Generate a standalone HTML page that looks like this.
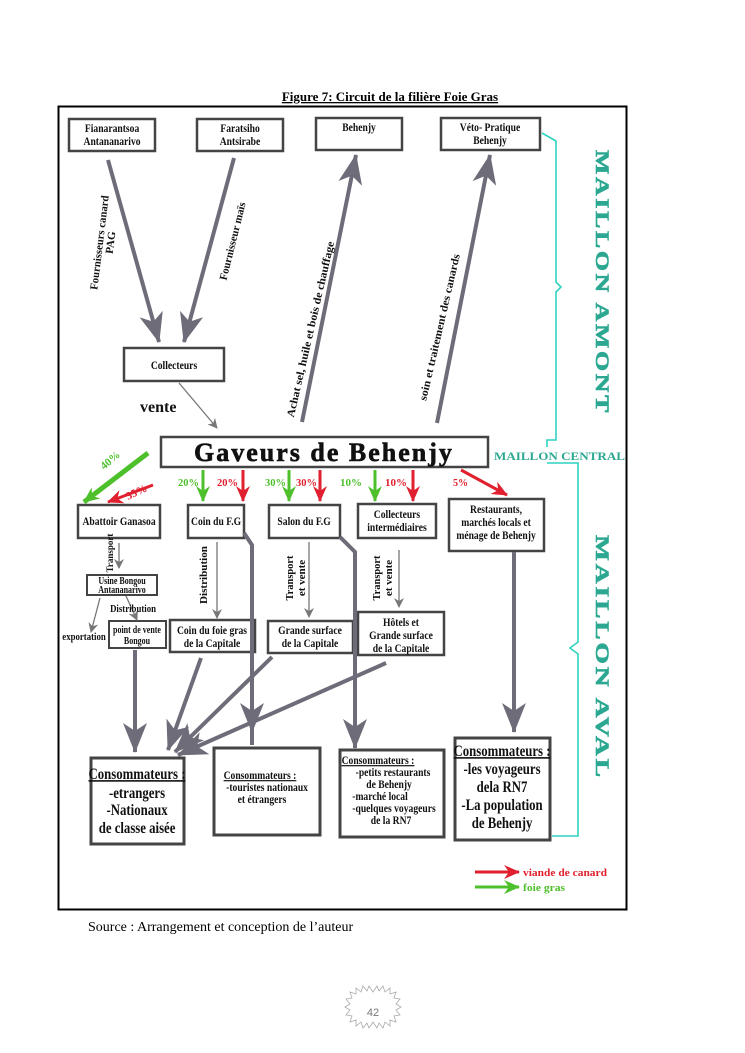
<!DOCTYPE html>
<html><head><meta charset="utf-8"><style>
html,body{margin:0;padding:0;background:#fff;}
svg{display:block;}
text{font-family:"Liberation Serif",serif;font-weight:bold;}
.c text,text.c{transform-box:fill-box;transform-origin:center;transform:scaleX(0.8);}
</style></head><body>
<svg width="745" height="1053" viewBox="0 0 745 1053" xmlns="http://www.w3.org/2000/svg">
<defs>
<marker id="g" markerWidth="10" markerHeight="10" refX="9" refY="5" orient="auto" markerUnits="userSpaceOnUse"><path d="M0,0 L10,5 L0,10 L3,5 Z" fill="#777"/></marker>
<marker id="G" markerWidth="30" markerHeight="24" refX="29" refY="12" orient="auto" markerUnits="userSpaceOnUse"><path d="M0,0 L30,12 L0,24 L8,12 Z" fill="#6e6c78"/></marker>
<marker id="r" markerWidth="16" markerHeight="14" refX="15" refY="7" orient="auto" markerUnits="userSpaceOnUse"><path d="M0,0 L16,7 L0,14 L5,7 Z" fill="#e0202e"/></marker>
<marker id="gr" markerWidth="16" markerHeight="14" refX="15" refY="7" orient="auto" markerUnits="userSpaceOnUse"><path d="M0,0 L16,7 L0,14 L5,7 Z" fill="#4ec02c"/></marker>
</defs>
<text x="390" y="101" font-size="13" text-anchor="middle" text-decoration="underline">Figure 7: Circuit de la filière Foie Gras</text>
<rect x="58.5" y="106.5" width="568" height="803" fill="none" stroke="#000" stroke-width="2"/>

<g fill="#fff" stroke="#444" stroke-width="2.5">
<rect x="69" y="119" width="86" height="32"/><rect x="197" y="119" width="86" height="32"/>
<rect x="316" y="118" width="86" height="32"/><rect x="441" y="118" width="99" height="32"/>
<rect x="124" y="348" width="100" height="33"/>
<rect x="161" y="437" width="327" height="30"/>
<rect x="78" y="505" width="82" height="33"/><rect x="188" y="505" width="56" height="33"/>
<rect x="269" y="505" width="71" height="33"/><rect x="358" y="504" width="78" height="34"/>
<rect x="449" y="499" width="95" height="52"/>
<rect x="87" y="575" width="70" height="20" stroke-width="2"/><rect x="109" y="621" width="57" height="27" stroke-width="2"/>
<rect x="170" y="620" width="85" height="32"/><rect x="268" y="621" width="85" height="32"/>
<rect x="358" y="612" width="86" height="43"/>
<rect x="91" y="758" width="93" height="86" stroke-width="3"/><rect x="214" y="748" width="106" height="87" stroke-width="3"/>
<rect x="340" y="750" width="104" height="87" stroke-width="3"/><rect x="455" y="738" width="95" height="102" stroke-width="3"/>
</g>

<g stroke="#6e6c78" stroke-width="4" fill="none" marker-end="url(#G)">
<line x1="108" y1="160" x2="159" y2="342"/><line x1="234" y1="158" x2="184" y2="342"/>
<line x1="302" y1="422" x2="356" y2="155"/><line x1="437" y1="423" x2="490" y2="155"/>
<line x1="135" y1="650" x2="135" y2="752"/><line x1="201" y1="658" x2="168" y2="750"/>
<line x1="272" y1="657" x2="175" y2="752"/><line x1="386" y1="663" x2="178" y2="755"/>
<line x1="514" y1="552" x2="514" y2="732"/>
</g>
<g stroke="#6e6c78" stroke-width="4" fill="none">
<polyline points="244,533 252,545 252,745"/><polyline points="340,537 355,552 355,748"/>
</g>
<g marker-end="url(#G)"><line x1="252" y1="700" x2="252" y2="732" stroke="#6e6c78" stroke-width="4"/><line x1="355" y1="700" x2="355" y2="748" stroke="#6e6c78" stroke-width="4"/></g>

<g stroke="#777" stroke-width="1.3" marker-end="url(#g)">
<line x1="179" y1="383" x2="217" y2="428"/>
<line x1="119" y1="543" x2="119" y2="568"/><line x1="126" y1="596" x2="137" y2="620"/>
<line x1="100" y1="598" x2="91" y2="632"/>
<line x1="217" y1="542" x2="217" y2="618"/><line x1="309" y1="542" x2="309" y2="617"/>
<line x1="399" y1="550" x2="399" y2="607"/>
</g>

<g stroke-width="3" fill="none">
<line x1="148" y1="453" x2="84" y2="502" stroke="#4ec02c" stroke-width="5" marker-end="url(#gr)"/>
<line x1="153" y1="485" x2="108" y2="502" stroke="#e0202e" marker-end="url(#r)"/>
<line x1="203" y1="470" x2="203" y2="501" stroke="#4ec02c" marker-end="url(#gr)"/>
<line x1="243" y1="470" x2="243" y2="501" stroke="#e0202e" marker-end="url(#r)"/>
<line x1="289" y1="470" x2="289" y2="501" stroke="#4ec02c" marker-end="url(#gr)"/>
<line x1="320" y1="470" x2="320" y2="501" stroke="#e0202e" marker-end="url(#r)"/>
<line x1="375" y1="470" x2="375" y2="501" stroke="#4ec02c" marker-end="url(#gr)"/>
<line x1="413" y1="470" x2="413" y2="501" stroke="#e0202e" marker-end="url(#r)"/>
<line x1="461" y1="470" x2="507" y2="495" stroke="#e0202e" marker-end="url(#r)"/>
<line x1="475" y1="872" x2="519" y2="872" stroke="#e0202e" marker-end="url(#r)"/>
<line x1="475" y1="887" x2="519" y2="887" stroke="#4ec02c" marker-end="url(#gr)"/>
</g>
<g font-size="11">
<text x="104" y="470" fill="#4ec02c" transform="rotate(-40 104 470)">40%</text>
<text x="128" y="500" fill="#e0202e" transform="rotate(-25 128 500)">35%</text>
<text x="178" y="486" fill="#4ec02c" textLength="21" lengthAdjust="spacingAndGlyphs">20%</text><text x="217" y="486" fill="#e0202e" textLength="21" lengthAdjust="spacingAndGlyphs">20%</text>
<text x="265" y="486" fill="#4ec02c" textLength="21" lengthAdjust="spacingAndGlyphs">30%</text><text x="296" y="486" fill="#e0202e" textLength="21" lengthAdjust="spacingAndGlyphs">30%</text>
<text x="340" y="486" fill="#4ec02c" textLength="22" lengthAdjust="spacingAndGlyphs">10%</text><text x="385" y="486" fill="#e0202e" textLength="22" lengthAdjust="spacingAndGlyphs">10%</text>
<text x="453" y="486" fill="#e0202e" textLength="15" lengthAdjust="spacingAndGlyphs">5%</text>
<text x="523" y="876" fill="#e0202e" textLength="84" lengthAdjust="spacingAndGlyphs">viande de canard</text>
<text x="523" y="891" fill="#4ec02c" textLength="42" lengthAdjust="spacingAndGlyphs">foie gras</text>
</g>

<g stroke="#2ed3c0" stroke-width="1.6" fill="none">
<path d="M542,133 L556,141 L556,282 L561,287 L556,292 L556,440 L547,440 L547,447"/>
<path d="M547,463 L578,463 L578,642 L570,648 L578,654 L578,836 L552,836"/>
</g>
<g fill="#2ca892" font-size="19" letter-spacing="2" stroke="#2ca892" stroke-width="0.6">
<text transform="translate(596,150) rotate(90)" textLength="265" lengthAdjust="spacingAndGlyphs">MAILLON AMONT</text>
<text transform="translate(596,535) rotate(90)" textLength="245" lengthAdjust="spacingAndGlyphs">MAILLON AVAL</text>
</g>
<text x="494" y="460" fill="#2ca892" font-size="12" textLength="131" lengthAdjust="spacingAndGlyphs">MAILLON CENTRAL</text>

<g font-size="12" text-anchor="middle" fill="#111" class="c">
<text x="112" y="132">Fianarantsoa</text><text x="112" y="145">Antananarivo</text>
<text x="240" y="132">Faratsiho</text><text x="240" y="145">Antsirabe</text>
<text x="359" y="131">Behenjy</text>
<text x="490" y="131">Véto- Pratique</text><text x="490" y="144">Behenjy</text>
<text x="174" y="369">Collecteurs</text>
<text x="119" y="525">Abattoir Ganasoa</text>
<text x="216" y="525">Coin du F.G</text>
<text x="304" y="525">Salon du F.G</text>
<text x="397" y="518">Collecteurs</text><text x="397" y="531">intermédiaires</text>
<text x="496" y="513">Restaurants,</text><text x="496" y="526">marchés locals et</text><text x="496" y="539">ménage de Behenjy</text>
<text x="122" y="584" font-size="10">Usine Bongou</text><text x="122" y="593" font-size="10">Antananarivo</text>
<text x="137" y="633" font-size="10">point de vente</text><text x="137" y="644" font-size="10">Bongou</text>
<text x="133" y="612" font-size="11">Distribution</text>
<text x="84" y="640" font-size="11">exportation</text>
<text x="212" y="634">Coin du foie gras</text><text x="212" y="647">de la Capitale</text>
<text x="310" y="634">Grande surface</text><text x="310" y="647">de la Capitale</text>
<text x="401" y="626">Hôtels et</text><text x="401" y="639">Grande surface</text><text x="401" y="652">de la Capitale</text>
<text x="137" y="779" font-size="16" text-decoration="underline">Consommateurs :</text>
<text x="137" y="798" font-size="16">-etrangers</text><text x="137" y="815" font-size="16">-Nationaux</text><text x="137" y="833" font-size="16">de classe aisée</text>
<text x="260" y="779" font-size="12" text-decoration="underline">Consommateurs :</text>
<text x="267" y="791" font-size="12">-touristes nationaux</text><text x="262" y="803" font-size="12">et étrangers</text>
<text x="378" y="764" font-size="12" text-decoration="underline">Consommateurs :</text>
<text x="393" y="776" font-size="12">-petits restaurants</text><text x="389" y="788" font-size="12">de Behenjy</text>
<text x="380" y="800" font-size="12">-marché local</text><text x="394" y="812" font-size="12">-quelques voyageurs</text><text x="391" y="824" font-size="12">de la RN7</text>
<text x="502" y="756" font-size="16" text-decoration="underline">Consommateurs :</text>
<text x="502" y="774" font-size="16">-les voyageurs</text><text x="502" y="792" font-size="16">dela RN7</text>
<text x="502" y="810" font-size="16">-La population</text><text x="502" y="828" font-size="16">de Behenjy</text>
</g>
<text x="324" y="461" font-size="26" text-anchor="middle" letter-spacing="2" fill="#111" stroke="#111" stroke-width="0.6">Gaveurs de Behenjy</text>
<text x="140" y="412" font-size="16" fill="#111">vente</text>

<g font-size="11" fill="#111" text-anchor="middle">
<text transform="translate(103,243) rotate(-83)" textLength="95" lengthAdjust="spacingAndGlyphs">Fournisseurs canard</text>
<text transform="translate(114,243) rotate(-83)">PAG</text>
<text transform="translate(236,242) rotate(-76)" textLength="80" lengthAdjust="spacingAndGlyphs">Fournisseur maïs</text>
<text transform="translate(314,330) rotate(-77)" textLength="180" lengthAdjust="spacingAndGlyphs">Achat sel, huile et bois de chauffage</text>
<text transform="translate(443,328) rotate(-77)" textLength="150" lengthAdjust="spacingAndGlyphs">soin et traitement des canards</text>
<text transform="translate(113,553) rotate(-90)" font-size="9">Transport</text>
<text transform="translate(207,575) rotate(-90)" textLength="58" lengthAdjust="spacingAndGlyphs">Distribution</text>
<text transform="translate(293,578) rotate(-90)" textLength="45" lengthAdjust="spacingAndGlyphs">Transport</text><text transform="translate(305,578) rotate(-90)">et vente</text>
<text transform="translate(380,578) rotate(-90)" textLength="45" lengthAdjust="spacingAndGlyphs">Transport</text><text transform="translate(392,578) rotate(-90)">et vente</text>
</g>

<text x="88" y="931" font-size="14" style="font-weight:normal">Source : Arrangement et conception de l’auteur</text>
<path d="M373,992 l4,-6 l2,5 l4,-5 l2,6 l5,-4 l0,6 l6,-2 l-2,6 l6,1 l-4,5 l5,3 l-5,3 l4,5 l-6,1 l2,6 l-6,-2 l0,6 l-5,-4 l-2,6 l-4,-5 l-2,5 l-4,-6 l-4,6 l-2,-5 l-4,5 l-2,-6 l-5,4 l0,-6 l-6,2 l2,-6 l-6,-1 l4,-5 l-5,-3 l5,-3 l-4,-5 l6,-1 l-2,-6 l6,2 l0,-6 l5,4 l2,-6 l4,5 l2,-5 z" fill="none" stroke="#aaa" stroke-width="0.8"/>
<text x="373" y="1016" font-size="11" text-anchor="middle" fill="#777" style="font-weight:normal;font-family:'Liberation Sans',sans-serif">42</text>
</svg>
</body></html>
